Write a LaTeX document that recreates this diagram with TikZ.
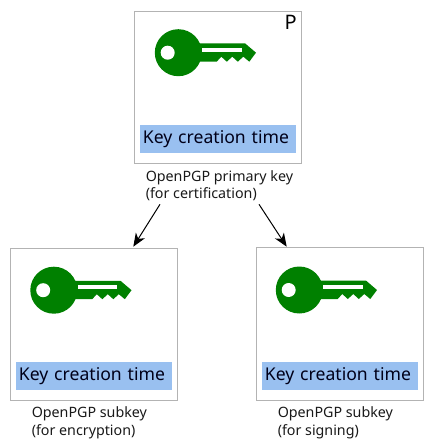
\documentclass[tikz,border=0pt]{standalone}
\usepackage{fontspec}
\setmainfont{Noto Sans}
\usetikzlibrary{arrows.meta}
\definecolor{keygreen}{HTML}{008000}
\definecolor{barblue}{HTML}{99C0F0}
\definecolor{boxgray}{HTML}{B3B3B3}
\tikzset{
    keybox/.style={draw=boxgray,line width=0.75pt,fill=white,minimum width=125.25pt,minimum height=114.5pt,inner sep=0pt},
    timebar/.style={fill=barblue,minimum height=21pt,inner ysep=0pt,inner xsep=2.2pt,text width=112.6pt,align=left,font=\fontsize{13.2pt}{16pt}\selectfont,text=black!90!blue},
    keylabel/.style={anchor=north west,align=left,inner sep=0pt,font=\fontsize{10.7pt}{13.2pt}\selectfont,text=black!90},
    pics/keyicon/.style={code={
        \fill[keygreen] (0,0) circle (23.5);
        \fill[keygreen] (20,-9.4) -- (66.7,-9.4) -- (77.7,0) -- (71,9) -- (65,4) -- (59.5,9) -- (54,4) -- (48.5,9) -- (43,4) -- (38.4,9) -- (20,9) -- cycle;
        \fill[white] (-10.6,0) circle (7);
        \fill[white] (24,-5) rectangle (63.4,-1);
    }}
}
\begin{document}
\begin{tikzpicture}[x=0.75pt,y=-0.75pt]
    \useasboundingbox (0,0) rectangle (434,447);

    \node[keybox] (primary) at (218,87.5) {};
    \node[keybox] (encrypt) at (94,324.6) {};
    \node[keybox] (signing) at (340,324.2) {};

    \pic at (178.3,52.7) {keyicon};
    \pic at (53.8,290.2) {keyicon};
    \pic at (299.3,290) {keyicon};

    \node[timebar] (primarytime) at (218,139) {Key creation time};
    \node[timebar] (encrypttime) at (94,376) {Key creation time};
    \node[timebar] (signingtime) at (340,376) {Key creation time};

    \node[anchor=north east,inner sep=0pt,font=\fontsize{15pt}{18pt}\selectfont] (primaryflag) at (297,15) {P};

    \node[keylabel] (primarylabel) at (145.5,170) {OpenPGP primary key\\(for certification)};
    \node[keylabel] (encryptlabel) at (31.5,406.5) {OpenPGP subkey\\(for encryption)};
    \node[keylabel] (signinglabel) at (277.5,406.5) {OpenPGP subkey\\(for signing)};

    \coordinate (leftstart) at (160,204.3);
    \coordinate (leftend) at (133.3,246.7);
    \coordinate (rightstart) at (259,204.3);
    \coordinate (rightend) at (286.7,246.7);

    \draw[line width=0.75pt,-{Stealth[length=10pt,width=8pt,inset=3pt]}] (leftstart) -- (leftend);
    \draw[line width=0.75pt,-{Stealth[length=10pt,width=8pt,inset=3pt]}] (rightstart) -- (rightend);
\end{tikzpicture}
\end{document}
